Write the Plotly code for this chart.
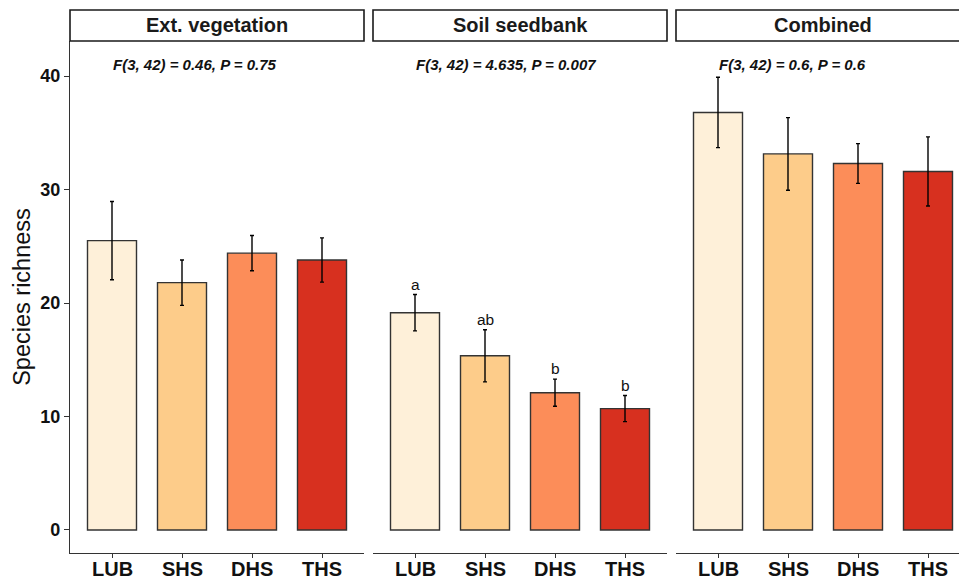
import plotly.graph_objects as go

categories = ["LUB", "SHS", "DHS", "THS"]
colors = ["#FEF0D9", "#FDCC8A", "#FC8D59", "#D7301F"]
panels = ["Ext. vegetation", "Soil seedbank", "Combined"]

ext_mean = [25.5, 21.8, 24.4, 23.8]
ext_se = [3.45, 2.0, 1.55, 1.95]
soil_mean = [19.15, 15.35, 12.1, 10.7]
soil_se = [1.6, 2.3, 1.2, 1.15]
comb_mean = [36.8, 33.15, 32.3, 31.6]
comb_se = [3.1, 3.2, 1.75, 3.05]
soil_letters = ["a", "ab", "b", "b"]
stats_text = ["F(3, 42) = 0.46, P = 0.75",
              "F(3, 42) = 4.635, P = 0.007",
              "F(3, 42) = 0.6, P = 0.6"]
y_ticks = [0, 10, 20, 30, 40]

means = [ext_mean, soil_mean, comb_mean]
ses = [ext_se, soil_se, comb_se]

FONT = "Liberation Sans, Arial, Helvetica, sans-serif"
INK = "#111111"
LINE = "#333333"

W, H = 959, 579
ML, MR, MT, MB = 70, 0, 10, 26
pw = W - ML - MR
ph = H - MT - MB
ytop = (H - MB - 41) / ph

def px_x(p):
    return (p - ML) / pw

domains = [[px_x(70), px_x(364)], [px_x(373), px_x(667)], [px_x(676), 1.0]]
xranges = [[-0.6, 3.6], [-0.6, 3.6], [-0.6, -0.6 + (W - 676) / 70]]

fig = go.Figure()
for i in range(3):
    sfx = "" if i == 0 else str(i + 1)
    fig.add_trace(go.Bar(
        x=categories, y=means[i],
        marker=dict(color=colors, line=dict(color=LINE, width=1.4)),
        width=0.7,
        error_y=dict(type="data", array=ses[i], visible=True,
                     color="black", thickness=1.4, width=2),
        xaxis="x" + sfx, yaxis="y" + sfx, showlegend=False,
    ))

layout = dict(
    width=W, height=H,
    margin=dict(l=ML, r=MR, t=MT, b=MB, autoexpand=False),
    plot_bgcolor="white", paper_bgcolor="white",
    font=dict(family=FONT, color=INK),
    bargap=0.3,
)
for i in range(3):
    sfx = "" if i == 0 else str(i + 1)
    layout["xaxis" + sfx] = dict(
        domain=domains[i], range=xranges[i], anchor="y" + sfx,
        type="category", categoryorder="array", categoryarray=categories,
        showline=True, linecolor=LINE, linewidth=1.2,
        ticks="outside", ticklen=4, tickcolor=LINE, tickwidth=1.2,
        showticklabels=False, automargin=False,
        showgrid=False, zeroline=False, fixedrange=True,
    )
    ya = dict(
        domain=[0, ytop], range=[-2.03, 43.1], anchor="x" + sfx,
        showgrid=False, zeroline=False, fixedrange=True, automargin=False,
    )
    if i == 0:
        ya.update(showline=True, linecolor=LINE, linewidth=1.2,
                  ticks="outside", ticklen=5, tickcolor=LINE, tickwidth=1.2,
                  tickvals=y_ticks,
                  tickfont=dict(family=FONT, size=18, color=INK, weight="bold"),
                  title=dict(text="Species richness", standoff=3,
                             font=dict(family=FONT, size=23.5, color=INK)))
    else:
        ya.update(visible=False)
    layout["yaxis" + sfx] = ya
fig.update_layout(**layout)

# x tick labels (category names) under each panel
for i in range(3):
    sfx = "" if i == 0 else str(i + 1)
    for c in categories:
        fig.add_annotation(xref="x" + sfx, yref="paper", x=c, y=0,
                           text="<b>%s</b>" % c, showarrow=False,
                           xanchor="center", yanchor="top", yshift=-3,
                           font=dict(family=FONT, size=20, color=INK))

# facet strips
for i in range(3):
    x0, x1 = domains[i]
    if i == 2:
        x1 = 1.05
    fig.add_shape(type="rect", xref="paper", yref="paper",
                  x0=x0, x1=x1, y0=ytop, y1=1.0,
                  line=dict(color="#1a1a1a", width=1.6), fillcolor="white",
                  layer="above")
    cx = domains[i][0] + (294 / pw) / 2
    fig.add_annotation(xref="paper", yref="paper", x=cx, y=(ytop + 1) / 2,
                       text="<b>%s</b>" % panels[i], showarrow=False,
                       xanchor="center", yanchor="middle",
                       font=dict(family=FONT, size=20, color="#1a1a1a"))

# statistics text
for i in range(3):
    sfx = "" if i == 0 else str(i + 1)
    fig.add_annotation(xref="x" + sfx, yref="y" + sfx, x=categories[0], y=41.0,
                       text="<b><i>%s</i></b>" % stats_text[i], showarrow=False,
                       xanchor="left", yanchor="middle", xshift=-1,
                       font=dict(family=FONT, size=15, color=INK))

# significance letters
for c, m, s, t in zip(categories, soil_mean, soil_se, soil_letters):
    fig.add_annotation(xref="x2", yref="y2", x=c, y=m + s, text=t,
                       showarrow=False, xanchor="center", yanchor="bottom",
                       yshift=0, font=dict(family=FONT, size=15.5, color=INK))

fig.write_html("out.html",
               config={"displayModeBar": False},
               post_script="document.body.style.margin='0px';"
                           "document.body.style.padding='0px';")
